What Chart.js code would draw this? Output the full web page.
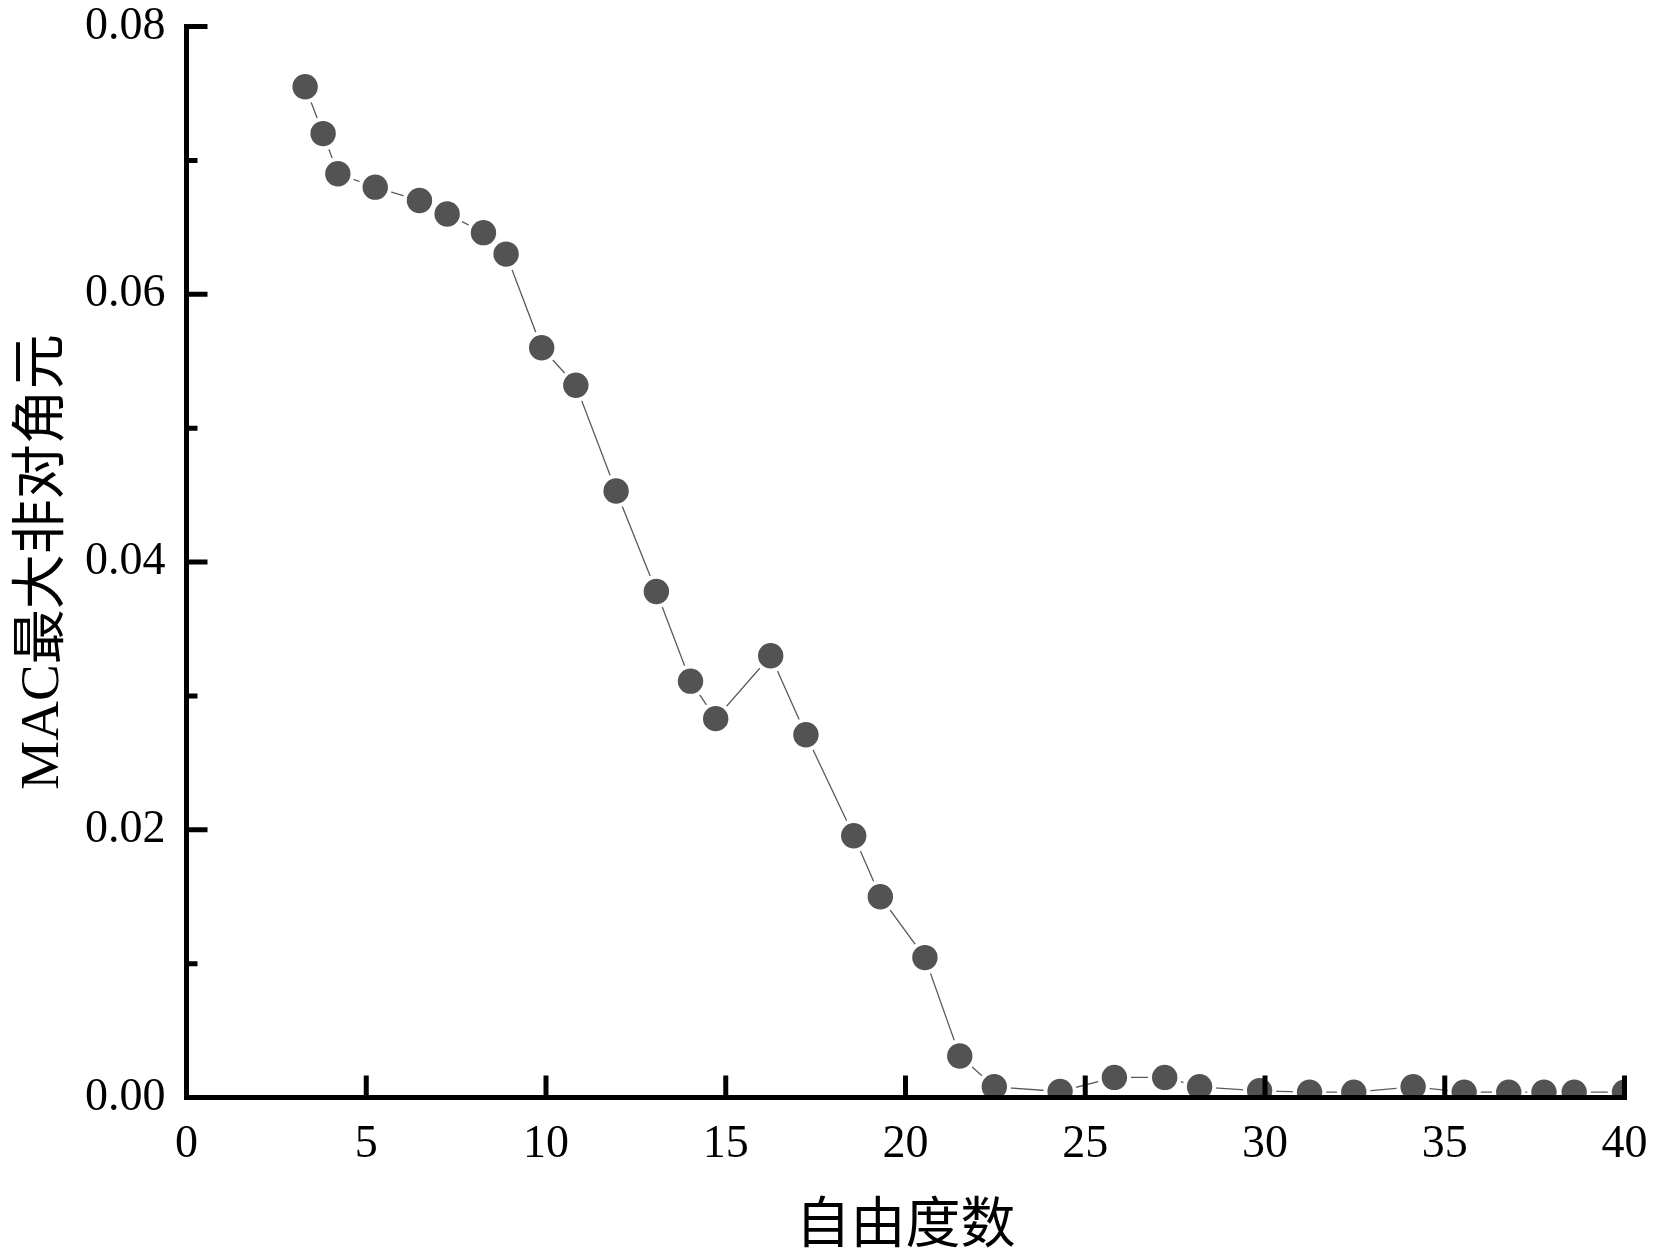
<!DOCTYPE html>
<html>
<head>
<meta charset="utf-8">
<script src="https://cdn.jsdelivr.net/npm/chart.js@4/dist/chart.umd.min.js"></script>
<style>
  html, body { margin: 0; padding: 0; background: #ffffff; }
  canvas { display: block; }
</style>
</head>
<body>
<canvas id="c" width="1661" height="1255"></canvas>
<script>
// ---- data ----
const dof = [3.30, 3.80, 4.21, 5.25, 6.48, 7.25, 8.26, 8.89, 9.88, 10.83,
             11.95, 13.07, 14.02, 14.72, 16.25, 17.23, 18.56, 19.30, 20.54, 21.51,
             22.47, 24.30, 25.81, 27.21, 28.18, 29.85, 31.24, 32.47, 34.12, 35.54,
             36.78, 37.76, 38.60, 40.00];
const macMaxOffDiag = [0.0755, 0.0720, 0.0690, 0.0680, 0.0670, 0.0660, 0.0646, 0.0630, 0.0560, 0.0532,
             0.0453, 0.0378, 0.0311, 0.0283, 0.0330, 0.0271, 0.01955, 0.0150, 0.01045, 0.0031,
             0.0008, 0.00045, 0.0015, 0.0015, 0.0008, 0.0005, 0.0004, 0.0004, 0.0008, 0.0004,
             0.0004, 0.0004, 0.0004, 0.0004];
const xMajorTicks = [0, 5, 10, 15, 20, 25, 30, 35, 40];
const yMajorTicks = [0, 0.02, 0.04, 0.06, 0.08];
const yMinorTicks = [0.01, 0.03, 0.05, 0.07];
const xTitle = '自由度数';
const yTitle = 'MAC最大非对角元';

const points = dof.map((x, i) => ({ x: x, y: macMaxOffDiag[i] }));

const latinFont = "'Liberation Serif', 'Times New Roman', 'Noto Sans CJK SC', serif";

const inwardAxes = {
  id: 'inwardAxes',
  afterDatasetsDraw(chart) {
    const { ctx, scales: { x, y } } = chart;
    const lw = 5;
    ctx.save();
    ctx.strokeStyle = '#000';
    ctx.lineWidth = lw;
    ctx.lineCap = 'butt';
    const yTop = y.getPixelForValue(yMajorTicks[yMajorTicks.length - 1]);
    const yBot = y.getPixelForValue(0);
    const xL = x.getPixelForValue(0);
    const xR = x.getPixelForValue(xMajorTicks[xMajorTicks.length - 1]);
    // axis lines
    ctx.beginPath();
    ctx.moveTo(xL, yTop - lw / 2);
    ctx.lineTo(xL, yBot + lw / 2);
    ctx.moveTo(xL - lw / 2, yBot);
    ctx.lineTo(xR + lw / 2, yBot);
    ctx.stroke();
    // ticks pointing into the plot
    ctx.beginPath();
    yMajorTicks.forEach(v => {
      const py = y.getPixelForValue(v);
      ctx.moveTo(xL, py); ctx.lineTo(xL + 21, py);
    });
    yMinorTicks.forEach(v => {
      const py = y.getPixelForValue(v);
      ctx.moveTo(xL, py); ctx.lineTo(xL + 11, py);
    });
    xMajorTicks.forEach(v => {
      const px = x.getPixelForValue(v);
      ctx.moveTo(px, yBot); ctx.lineTo(px, yBot - 22);
    });
    ctx.stroke();
    ctx.restore();
  }
};

new Chart(document.getElementById('c'), {
  type: 'line',
  data: {
    datasets: [{
      data: points,
      borderColor: '#5a5a5a',
      borderWidth: 1.3,
      tension: 0,
      pointRadius: 14.7,
      pointHoverRadius: 14.7,
      pointBackgroundColor: '#535353',
      pointBorderColor: '#ffffff',
      pointBorderWidth: 4,
      fill: false
    }]
  },
  options: {
    responsive: false,
    animation: false,
    devicePixelRatio: 1,
    layout: { padding: { left: 0, top: 26.5, right: 36.5, bottom: 0 } },
    plugins: { legend: { display: false }, tooltip: { enabled: false } },
    scales: {
      x: {
        type: 'linear',
        min: 0, max: 40,
        grid: { display: false, drawTicks: false },
        border: { display: false },
        ticks: {
          stepSize: 5,
          padding: 20,
          color: '#000',
          font: { family: latinFont, size: 46 },
          callback: v => String(v)
        },
        title: {
          display: true,
          text: xTitle,
          color: '#000',
          font: { family: "'Noto Sans CJK SC', sans-serif", size: 55, weight: 'normal' },
          padding: { top: 0, bottom: 1 }
        },
        afterFit(scale) {
          scale.height = 157.5;
          scale.paddingLeft = 0;
          scale.paddingRight = 0;
        }
      },
      y: {
        type: 'linear',
        min: 0, max: 0.08,
        grid: { display: false, drawTicks: false },
        border: { display: false },
        ticks: {
          stepSize: 0.02,
          padding: 21,
          color: '#000',
          font: { family: latinFont, size: 46 },
          callback: v => Number(v).toFixed(2)
        },
        title: {
          display: true,
          text: yTitle,
          color: '#000',
          font: { family: latinFont, size: 55, weight: 'normal' },
          padding: { top: 11, bottom: 0 }
        },
        afterFit(scale) {
          scale.width = 186.5;
          scale.paddingTop = 0;
          scale.paddingBottom = 0;
        }
      }
    }
  },
  plugins: [inwardAxes]
});
</script>
</body>
</html>
